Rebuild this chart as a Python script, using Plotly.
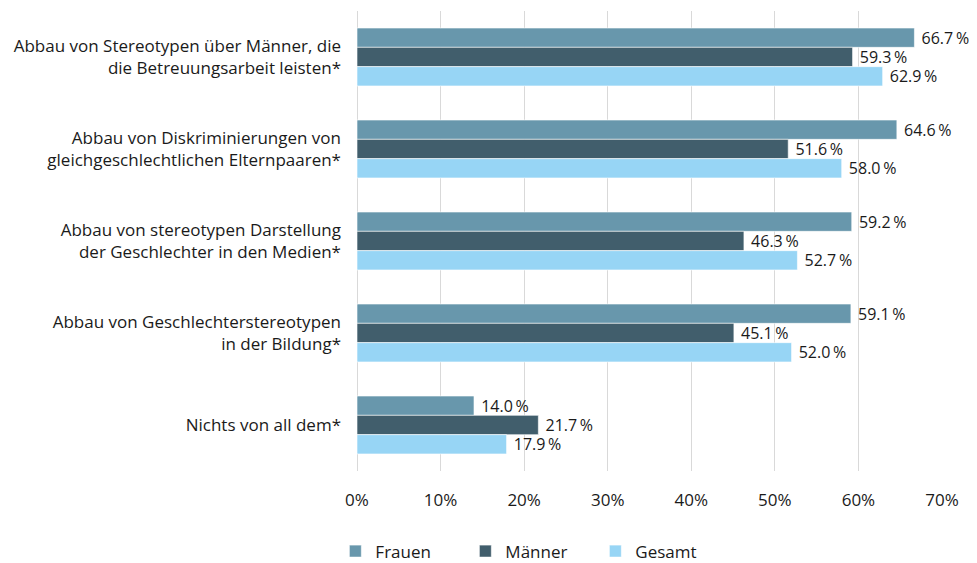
import plotly.graph_objects as go

categories = [
    "Abbau von Stereotypen über Männer, die<br>die Betreuungsarbeit leisten*",
    "Abbau von Diskriminierungen von<br>gleichgeschlechtlichen Elternpaaren*",
    "Abbau von stereotypen Darstellung<br>der Geschlechter in den Medien*",
    "Abbau von Geschlechterstereotypen<br>in der Bildung*",
    "Nichts von all dem*",
]
frauen = [66.7, 64.6, 59.2, 59.1, 14.0]
maenner = [59.3, 51.6, 46.3, 45.1, 21.7]
gesamt = [62.9, 58.0, 52.7, 52.0, 17.9]

tick_vals = [0, 10, 20, 30, 40, 50, 60, 70]
tick_text = ["0%", "10%", "20%", "30%", "40%", "50%", "60%", "70%"]

series = [
    ("Frauen", frauen, "#6897ac"),
    ("Männer", maenner, "#415e6c"),
    ("Gesamt", gesamt, "#97d5f5"),
]

FONT = "Open Sans, Noto Sans, sans-serif"

fig = go.Figure()
for name, vals, color in series:
    fig.add_trace(go.Bar(
        name=name,
        y=categories,
        x=vals,
        orientation="h",
        marker=dict(color=color, line=dict(color="rgba(255,255,255,0.6)", width=1)),
        text=[f"\u00a0{v:.1f}\u2009%" for v in vals],
        textposition="outside",
        constraintext="none",
        cliponaxis=False,
        textfont=dict(size=16, color="#1a1a1a", family=FONT),
    ))

# page body has an 8px margin, so the figure is drawn 8px smaller
fig.update_layout(
    width=969,
    height=555,
    barmode="group",
    bargap=0.37,
    bargroupgap=0,
    plot_bgcolor="white",
    paper_bgcolor="white",
    margin=dict(l=349, r=35, t=3, b=92, autoexpand=False),
    font=dict(family=FONT, size=17, color="#1a1a1a"),
    legend=dict(
        orientation="h",
        x=-0.037,
        xanchor="left",
        y=-0.136,
        yanchor="top",
        font=dict(size=17),
        traceorder="normal",
        itemwidth=30,
        entrywidth=85,
    ),
)
fig.update_xaxes(
    range=[0, 70],
    tickvals=tick_vals,
    ticktext=tick_text,
    showgrid=True,
    gridcolor="#d9d9d9",
    gridwidth=1,
    zeroline=True,
    zerolinecolor="#d9d9d9",
    zerolinewidth=1,
    showline=False,
    ticks="",
    ticklabelstandoff=17,
    tickfont=dict(size=17),
    automargin=False,
)
fig.update_yaxes(
    autorange="reversed",
    showgrid=False,
    ticks="",
    ticklabelstandoff=15,
    tickfont=dict(size=17),
    automargin=False,
)

fig.write_html("out.html")
